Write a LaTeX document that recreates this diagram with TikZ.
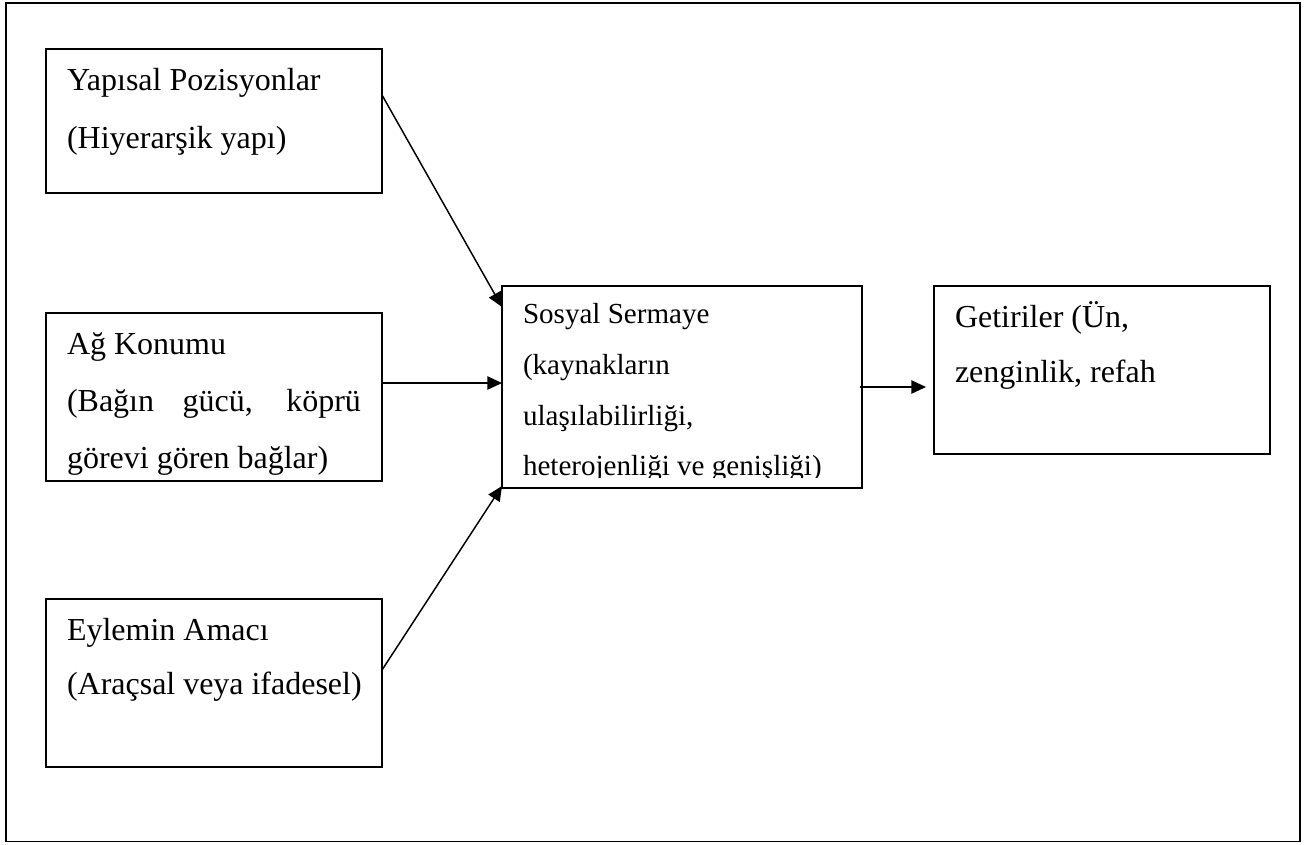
\documentclass[tikz,border=0pt]{standalone}
\usepackage{fontspec}
\setmainfont{Liberation Serif}
\usetikzlibrary{arrows.meta,positioning,calc}
\newcommand{\inbox}[3]{\parbox[c][#2][t]{#1}{\leftskip=15.75pt\rightskip=15.75pt minus 15pt\rule{0pt}{1.3em}#3}}

\begin{document}
\begin{tikzpicture}[
  x=0.75pt,y=-0.75pt,
  box/.style={draw,line width=1.1pt,inner sep=0pt,outer sep=0pt},
  txt/.style={font=\fontsize{24}{#1}\selectfont},
  arr/.style={-{Triangle[length=11pt,width=10pt]},line width=1.1pt}]
\useasboundingbox (0,0) rectangle (1309,844);
% outer frame
\draw[line width=1.2pt] (6,3) rectangle (1300,841.5);
% left column
\node[box,txt=43.5,anchor=north west] (pos) at (46,49)
   {\inbox{252pt}{108pt}{Yapısal Pozisyonlar\\(Hiyerarşik yapı)}};
\node[box,txt=42.75,below=90pt of pos] (net)
   {\inbox{252pt}{126pt}{Ağ Konumu\\(Bağın gücü, köprü\linebreak görevi gören bağlar)}};
\node[box,txt=40.5,below=88.5pt of net] (goal)
   {\inbox{252pt}{126pt}{Eylemin Amacı\\(Araçsal veya ifadesel)}};
% social capital (text cut at the bottom)
\begin{scope}
\clip (480,270) rectangle (880,477);
\node[inner sep=0pt,outer sep=0pt,font=\fontsize{21.8}{38}\selectfont,anchor=north west] (soc)
   at ([xshift=90pt,yshift=20.25pt]net.north east)
   {\inbox{270pt}{151.5pt}{Sosyal Sermaye\\(kaynakların\\ulaşılabilirliği,\\heterojenliği ve genişliği)}};
\end{scope}
\draw[box] (soc.north west) rectangle (soc.south east);
% returns
\node[box,txt=41.25,anchor=north west] (ret) at ([xshift=54pt]soc.north east)
   {\inbox{252pt}{126pt}{Getiriler (Ün,\\zenginlik, refah}};
% arrows
\coordinate (netout) at ([yshift=10.5pt]net.east);
\coordinate (socout) at ([xshift=-1.5pt]soc.east);
\draw[arr] ([yshift=19.5pt]pos.east) -- ([yshift=-15.75pt]soc.north west);
\draw[arr] (netout) -- (netout -| soc.west);
\draw[arr] ([yshift=9.75pt]goal.east) -- ([yshift=1.5pt]soc.south west);
\draw[arr] (socout) -- ($(socout -| ret.west)+(-6pt,0)$);
\end{tikzpicture}
\end{document}
